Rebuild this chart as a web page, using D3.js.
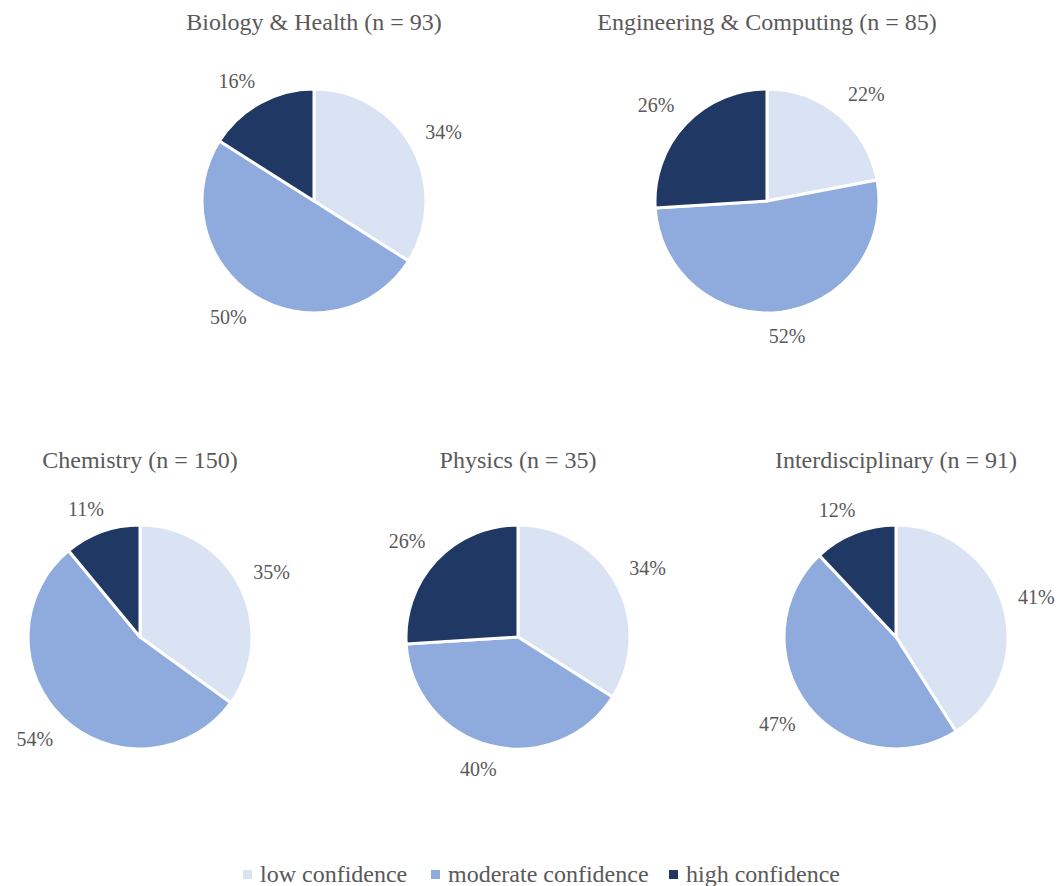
<!DOCTYPE html>
<html><head><meta charset="utf-8">
<script src="https://cdn.jsdelivr.net/npm/d3@7"></script>
<style>body{margin:0;background:#fff;} svg text{font-family:"Liberation Serif","Times New Roman",serif;}</style>
</head><body>
<svg id="c" width="1062" height="886"></svg>
<script>
const categories = ["low confidence","moderate confidence","high confidence"];
const colors = ["#DAE3F3","#8FAADC","#203864"];
const titles = ["Biology & Health (n = 93)","Engineering & Computing (n = 85)","Chemistry (n = 150)","Physics (n = 35)","Interdisciplinary (n = 91)"];
const bioValues = [34,50,16];
const engValues = [22,52,26];
const chemValues = [35,54,11];
const physValues = [34,40,26];
const interValues = [41,47,12];
const seriesValues = [bioValues, engValues, chemValues, physValues, interValues];

const svg = d3.select("#c");
const centers = [[314,201],[767,201],[140,637],[518,637],[896,637]];
const titleY = [22,22,460,460,460];
const R = 112;
const pie = d3.pie().sort(null).value(d=>d);
const arc = d3.arc().innerRadius(0).outerRadius(R);
const color = d3.scaleOrdinal().domain(categories).range(colors);
const clamp = v => Math.max(-1, Math.min(1, v));

seriesValues.forEach((vals,i)=>{
  const [cx,cy] = centers[i];
  svg.append("text").attr("x",cx).attr("y",titleY[i]).attr("text-anchor","middle")
    .attr("dominant-baseline","central").attr("font-size",24).attr("fill","#595959").text(titles[i]);
  const g = svg.append("g").attr("transform",`translate(${cx},${cy})`);
  const arcs = pie(vals);
  g.selectAll("path").data(arcs).join("path")
    .attr("d",arc).attr("fill",(d,j)=>color(categories[j]))
    .attr("stroke","#fff").attr("stroke-width",3).attr("stroke-linejoin","round");
  arcs.forEach(a=>{
    const m = (a.startAngle+a.endAngle)/2;
    const s = Math.sin(m), c = Math.cos(m);
    const t = g.append("text").attr("text-anchor","middle").attr("dominant-baseline","central")
      .attr("font-size",20).attr("fill","#595959").text(a.data+"%");
    const w = t.node().getComputedTextLength(), h = 18;
    const rr = R + 15;
    const x = s*rr + clamp(s*1.8)*w/2;
    const y = -c*rr - clamp(c*1.8)*h/2;
    t.attr("x", x).attr("y", y);
  });
});

// legend
const legX = [243,431,669];
categories.forEach((k,j)=>{
  svg.append("rect").attr("x",legX[j]).attr("y",870).attr("width",9).attr("height",9).attr("fill",color(k));
  svg.append("text").attr("x",legX[j]+17).attr("y",874).attr("dominant-baseline","central")
    .attr("font-size",24).attr("fill","#595959").text(k);
});
</script>
</body></html>
